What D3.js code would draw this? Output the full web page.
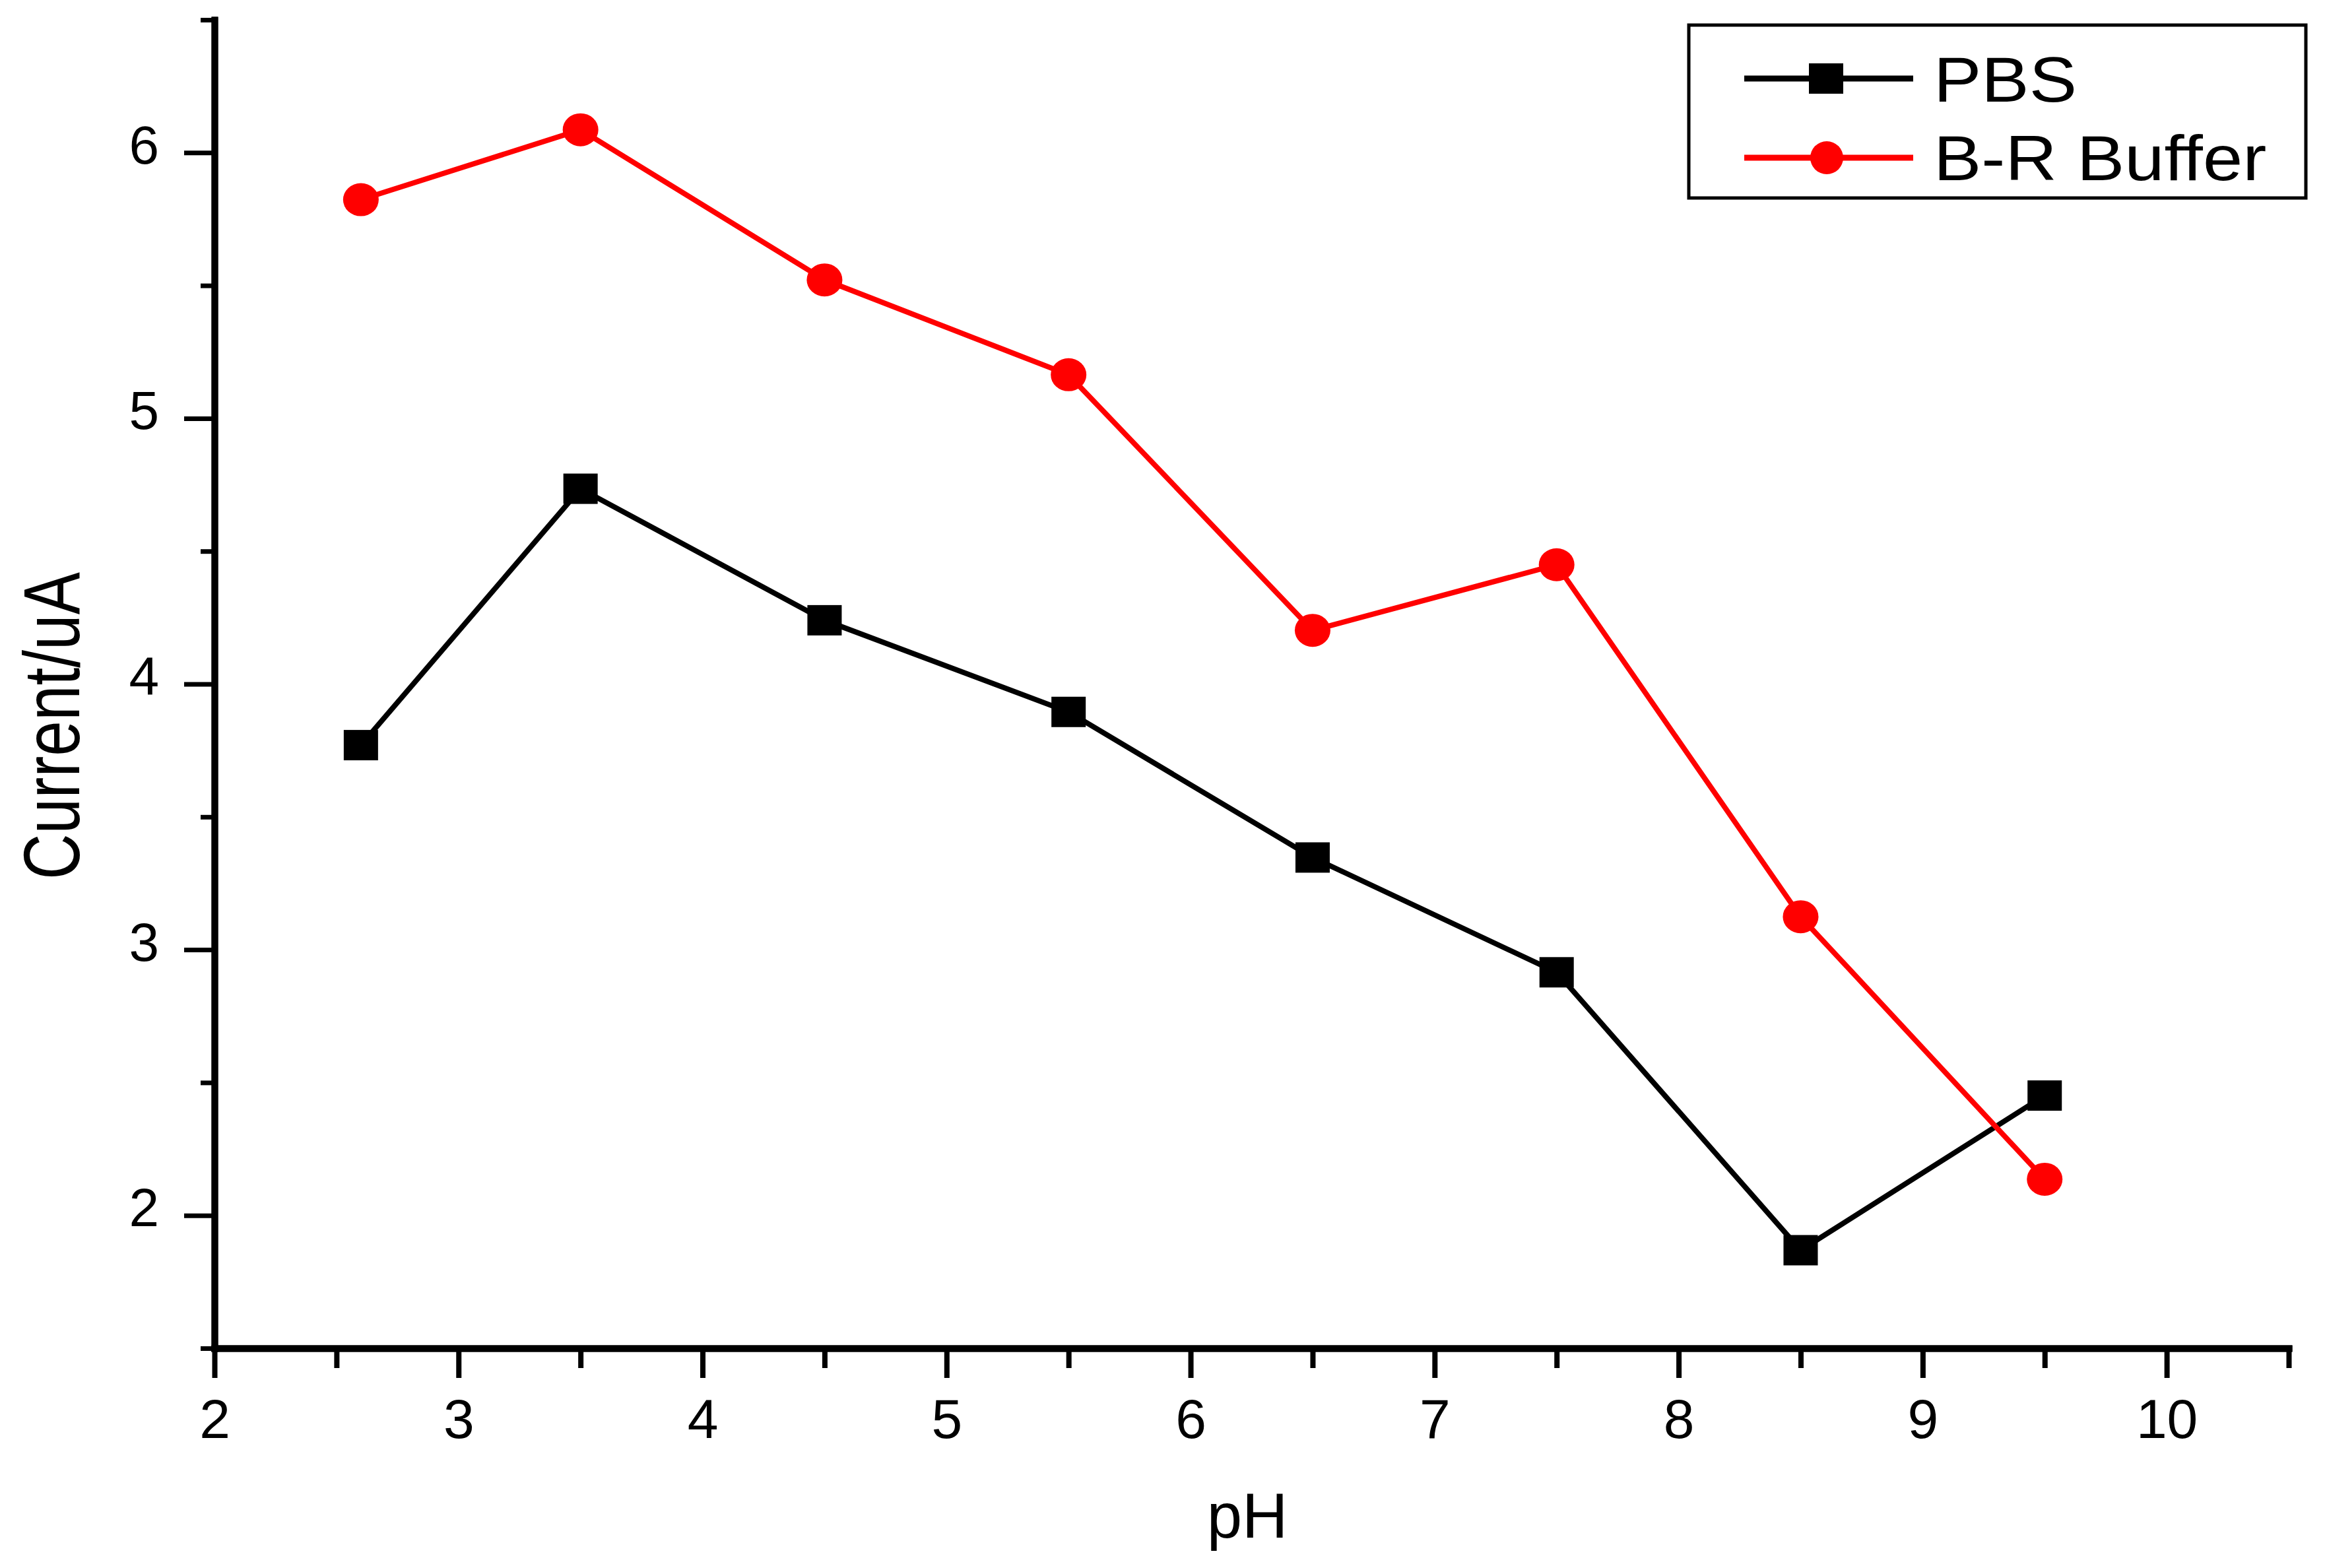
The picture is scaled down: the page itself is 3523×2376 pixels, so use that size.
<!DOCTYPE html>
<html>
<head>
<meta charset="utf-8">
<script src="https://cdn.jsdelivr.net/npm/d3@7"></script>
<style>
html,body{margin:0;padding:0;background:#fff;}
svg{display:block;}
text{font-family:"Liberation Sans",Arial,sans-serif;fill:#000;}
</style>
</head>
<body>
<svg id="chart" width="3523" height="2376"></svg>
<script>
// ---- data ----
const pHValues = [2.6, 3.5, 4.5, 5.5, 6.5, 7.5, 8.5, 9.5];
const pbsValues = [3.77, 4.735, 4.24, 3.895, 3.347, 2.915, 1.869, 2.451];
const brValues = [5.823, 6.086, 5.521, 5.164, 4.202, 4.449, 3.124, 2.136];
const seriesNames = ["PBS", "B-R Buffer"];
const xMajorTicks = [2, 3, 4, 5, 6, 7, 8, 9, 10];
const xMinorTicks = [2.5, 3.5, 4.5, 5.5, 6.5, 7.5, 8.5, 9.5, 10.5];
const yMajorTicks = [2, 3, 4, 5, 6];
const yMinorTicks = [1.5, 2.5, 3.5, 4.5, 5.5, 6.5];
const xTitle = "pH";
const yTitle = "Current/uA";

const svg = d3.select("#chart");
const x = d3.scaleLinear().domain([2, 10.5]).range([325, 3468]);
const y = d3.scaleLinear().domain([1.5, 6.5]).range([2043, 30]);

// ---- axes ----
const xAxisMinor = d3.axisBottom(x).tickValues(xMinorTicks).tickSize(30).tickSizeOuter(0).tickFormat("");
const xAxisMajor = d3.axisBottom(x).tickValues(xMajorTicks).tickSize(45).tickSizeOuter(0).tickFormat(d3.format("d"));
const yAxisMinor = d3.axisLeft(y).tickValues(yMinorTicks).tickSize(21).tickSizeOuter(0).tickFormat("");
const yAxisMajor = d3.axisLeft(y).tickValues(yMajorTicks).tickSize(46).tickSizeOuter(0).tickFormat(d3.format("d"));

function styleAxis(g, w) {
  g.select(".domain").attr("stroke", "#000").attr("stroke-width", 10).attr("stroke-linecap", "square");
  g.selectAll(".tick line").attr("stroke", "#000").attr("stroke-width", w);
}

const gx1 = svg.append("g").attr("transform", `translate(0,${y.range()[0]})`).call(xAxisMinor);
styleAxis(gx1, 8);
const gx2 = svg.append("g").attr("transform", `translate(0,${y.range()[0]})`).call(xAxisMajor);
styleAxis(gx2, 8);
gx2.selectAll(".tick text")
  .attr("y", 136).attr("dy", null)
  .attr("font-size", 84)
  .attr("font-family", "Liberation Sans, Arial, sans-serif")
  .attr("fill", "#000");

const gy1 = svg.append("g").attr("transform", `translate(${x.range()[0]},0)`).call(yAxisMinor);
styleAxis(gy1, 7);
const gy2 = svg.append("g").attr("transform", `translate(${x.range()[0]},0)`).call(yAxisMajor);
styleAxis(gy2, 7);
gy2.selectAll(".tick text")
  .attr("x", -84).attr("dy", null).attr("y", 16)
  .attr("font-size", 82)
  .attr("font-family", "Liberation Sans, Arial, sans-serif")
  .attr("fill", "#000");

// ---- titles ----
svg.append("text")
  .attr("x", 1890).attr("y", 2330)
  .attr("text-anchor", "middle")
  .attr("font-size", 96)
  .text(xTitle);

svg.append("text")
  .attr("transform", "translate(120,1100) rotate(-90)")
  .attr("text-anchor", "middle")
  .attr("font-size", 120)
  .attr("textLength", 466)
  .attr("lengthAdjust", "spacingAndGlyphs")
  .text(yTitle);

// ---- lines & markers ----
const pbsData = pHValues.map((p, i) => ({x: p, y: pbsValues[i]}));
const brData = pHValues.map((p, i) => ({x: p, y: brValues[i]}));
const line = d3.line().x(d => x(d.x)).y(d => y(d.y));

svg.append("path").datum(pbsData)
  .attr("d", line).attr("fill", "none").attr("stroke", "#000").attr("stroke-width", 8).attr("stroke-linejoin", "miter");
svg.append("path").datum(brData)
  .attr("d", line).attr("fill", "none").attr("stroke", "#ff0000").attr("stroke-width", 8).attr("stroke-linejoin", "miter");

const SQW = 52, SQH = 46;
svg.append("g").selectAll("rect").data(pbsData).join("rect")
  .attr("x", d => x(d.x) - SQW / 2).attr("y", d => y(d.y) - SQH / 2)
  .attr("width", SQW).attr("height", SQH).attr("fill", "#000");
svg.append("g").selectAll("ellipse").data(brData).join("ellipse")
  .attr("cx", d => x(d.x)).attr("cy", d => y(d.y))
  .attr("rx", 27).attr("ry", 25).attr("fill", "#ff0000");

// ---- legend ----
const leg = svg.append("g");
leg.append("rect").attr("x", 2559).attr("y", 38).attr("width", 935).attr("height", 262)
  .attr("fill", "#fff").attr("stroke", "#000").attr("stroke-width", 5);
const legendRows = [
  {name: seriesNames[0], color: "#000", shape: "square", ly: 119, ty: 154},
  {name: seriesNames[1], color: "#ff0000", shape: "circle", ly: 239, ty: 273}
];
legendRows.forEach(r => {
  leg.append("line").attr("x1", 2643).attr("x2", 2899).attr("y1", r.ly).attr("y2", r.ly)
    .attr("stroke", r.color).attr("stroke-width", 9);
  if (r.shape === "square") {
    leg.append("rect").attr("x", 2767 - SQW / 2).attr("y", r.ly - SQH / 2)
      .attr("width", SQW).attr("height", SQH).attr("fill", r.color);
  } else {
    leg.append("ellipse").attr("cx", 2768).attr("cy", r.ly).attr("rx", 25).attr("ry", 25).attr("fill", r.color);
  }
  leg.append("text")
    .attr("transform", `translate(2930,${r.ty}) scale(1.13,1)`)
    .attr("font-size", 96)
    .text(r.name);
});
</script>
</body>
</html>
